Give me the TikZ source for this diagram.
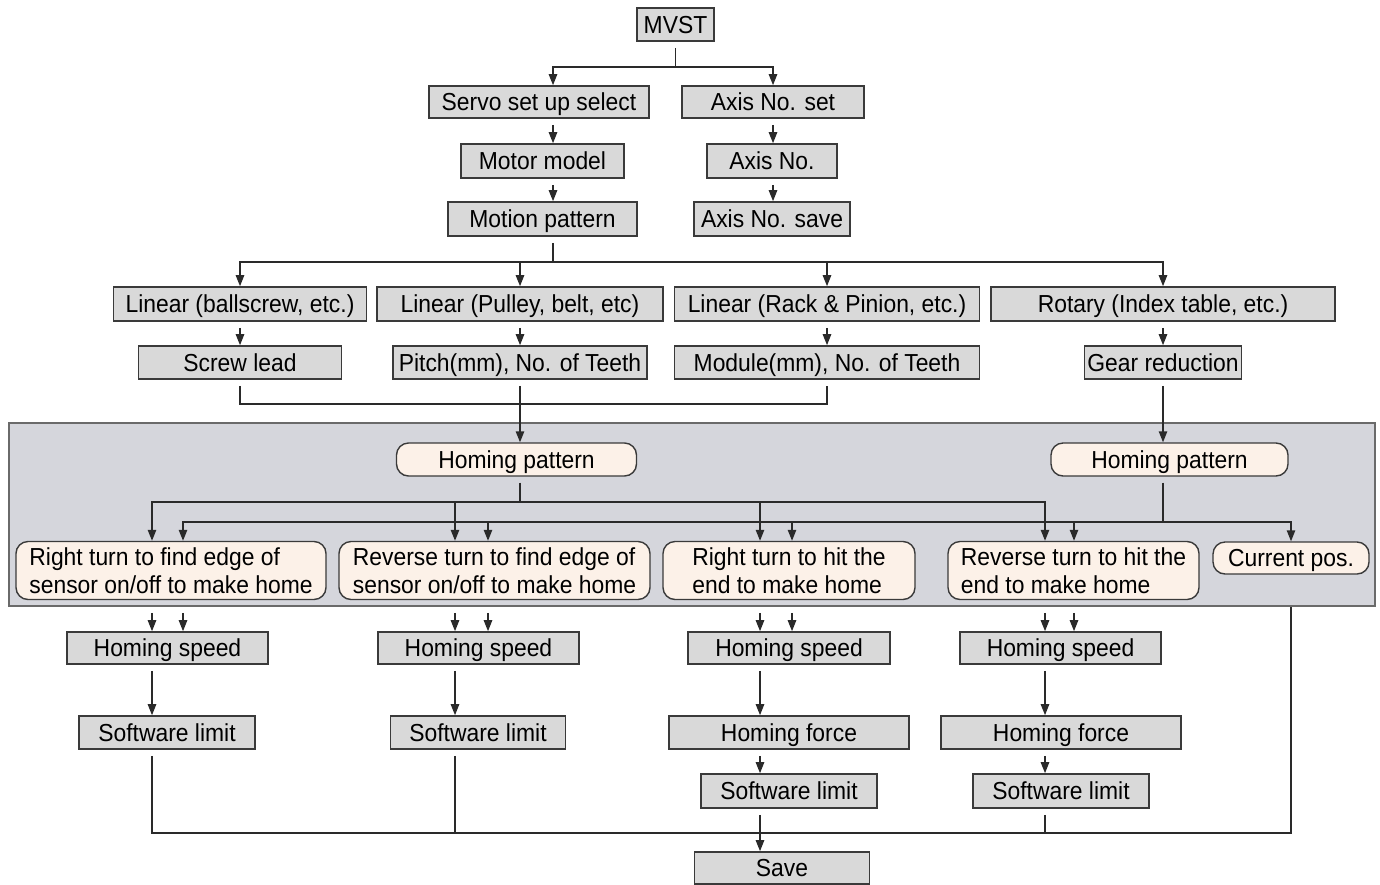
\documentclass[tikz,border=0pt]{standalone}
\usepackage{fontspec}
\setmainfont[FakeStretch=0.93]{Liberation Sans}
\usetikzlibrary{arrows.meta}
\definecolor{boxfill}{HTML}{D9D9D9}
\definecolor{boxdraw}{HTML}{3A3A3A}
\definecolor{panelfill}{HTML}{D5D6DC}
\definecolor{paneldraw}{HTML}{6A6A6A}
\definecolor{roundfill}{HTML}{FCF1E8}
\definecolor{linecol}{HTML}{2A2A2A}
\begin{document}
\begin{tikzpicture}[x=0.5pt,y=-0.5pt,
  font=\fontsize{12.3}{14}\selectfont,
  bx/.style 2 args={draw=boxdraw, fill=boxfill, line width=0.8pt, inner sep=0pt,
    text height=1.9ex, text depth=0.25ex,
    minimum width={0.5pt*#1}, minimum height={0.5pt*#2}},
  rbx/.style 2 args={draw=boxdraw, fill=roundfill, line width=0.7pt, inner sep=0pt,
    rounded corners=6pt, align=left, minimum width={0.5pt*#1}, minimum height={0.5pt*#2}},
  one/.style={text height=1.9ex, text depth=0.25ex},
  panel/.style={draw=paneldraw, fill=panelfill, line width=0.8pt, inner sep=0pt,
    minimum width=683pt, minimum height=91.5pt},
  conn/.style={draw=linecol, line width=0.7pt},
  arr/.style={conn, -{Triangle[length=5.5pt,width=4.2pt]}},
  gap/.style={shorten <=3pt}
]
\useasboundingbox (0,0) rectangle (1380,884);

% grey panel
\node[panel] (panel) at (692,514.5) {};

% top part
\node[bx={77}{33}]  (mvst)     at (675.5,24.5) {MVST};
\node[bx={220}{32}] (servo)    at (539,102)    {Servo set up select};
\node[bx={182}{32}] (axisset)  at (773,102)    {Axis No. set};
\node[bx={163}{34}] (motor)    at (542.5,161)  {Motor model};
\node[bx={130}{34}] (axisno)   at (772,161)    {Axis No.};
\node[bx={189}{34}] (motion)   at (542.5,219)  {Motion pattern};
\node[bx={156}{34}] (axissave) at (772,219)    {Axis No. save};

% mechanism rows
\node[bx={253}{34}] (lin1)   at (240,304)    {Linear (ballscrew, etc.)};
\node[bx={286}{34}] (lin2)   at (520,304)    {Linear (Pulley, belt, etc)};
\node[bx={305}{34}] (lin3)   at (827,304)    {Linear (Rack \& Pinion, etc.)};
\node[bx={344}{34}] (rot)    at (1163,304)   {Rotary (Index table, etc.)};
\node[bx={203}{33}] (screw)  at (240,362.5)  {Screw lead};
\node[bx={254}{33}] (pitch)  at (520,362.5)  {Pitch(mm), No. of Teeth};
\node[bx={305}{33}] (module) at (827,362.5)  {Module(mm), No. of Teeth};
\node[bx={157}{33}] (gear)   at (1163,362.5) {Gear reduction};

% homing patterns
\node[rbx={240}{33},one] (hp1) at (516.5,459.5)  {Homing pattern};
\node[rbx={237}{33},one] (hp2) at (1169.5,459.5) {Homing pattern};
\node[rbx={310}{58}] (b1) at (171,570.5)    {Right turn to find edge of\\sensor on/off to make home};
\node[rbx={311}{58}] (b2) at (494.5,570.5)  {Reverse turn to find edge of\\sensor on/off to make home};
\node[rbx={252}{58}] (b3) at (789,570.5)    {Right turn to hit the\\end to make home};
\node[rbx={251}{58}] (b4) at (1073.5,570.5) {Reverse turn to hit the\\end to make home};
\node[rbx={156}{32},one] (b5) at (1291,558)     {Current pos.};

% lower part
\node[bx={201}{32}] (hs1) at (167.5,648)  {Homing speed};
\node[bx={201}{32}] (hs2) at (478.5,648)  {Homing speed};
\node[bx={202}{32}] (hs3) at (789,648)    {Homing speed};
\node[bx={201}{32}] (hs4) at (1060.5,648) {Homing speed};
\node[bx={176}{33}] (sl1) at (167,732.5)  {Software limit};
\node[bx={175}{33}] (sl2) at (478,732.5)  {Software limit};
\node[bx={240}{33}] (hf3) at (789,732.5)  {Homing force};
\node[bx={240}{33}] (hf4) at (1061,732.5) {Homing force};
\node[bx={176}{34}] (sl3) at (789,791)    {Software limit};
\node[bx={176}{34}] (sl4) at (1061,791)   {Software limit};
\node[bx={175}{32}] (save) at (782,868)   {Save};

% helper coordinates
\coordinate (xa) at (553,0);
\coordinate (xb) at (773,0);
\coordinate (c2) at (520,0);
\coordinate (c4) at (1163,0);
\coordinate (xA1) at (152,0);
\coordinate (xA2) at (455,0);
\coordinate (xA3) at (760,0);
\coordinate (xA4) at (1045,0);
\coordinate (xB1) at (183,0);
\coordinate (xB2) at (488,0);
\coordinate (xB3) at (792,0);
\coordinate (xB4) at (1074,0);
\coordinate (xB5) at (1291,0);
\coordinate (y0) at (0,67);
\coordinate (y1) at (0,262);
\coordinate (y2) at (0,404);
\coordinate (yA) at (0,502);
\coordinate (yB) at (0,522);
\coordinate (yC) at (0,833);

% top connectors
\draw[conn,gap] (mvst.south) -- (mvst.south |- y0);
\draw[arr] (mvst.south |- y0) -| (xa |- servo.north);
\draw[arr] (mvst.south |- y0) -| (xb |- axisset.north);
\draw[arr,gap] (xa |- servo.south) -- (xa |- motor.north);
\draw[arr,gap] (xa |- motor.south) -- (xa |- motion.north);
\draw[arr,gap] (xb |- axisset.south) -- (xb |- axisno.north);
\draw[arr,gap] (xb |- axisno.south) -- (xb |- axissave.north);

\draw[conn,gap] (xa |- motion.south) -- (xa |- y1);
\draw[arr] (xa |- y1) -| (lin1.north);
\draw[arr] (xa |- y1) -| (lin2.north);
\draw[arr] (xa |- y1) -| (lin3.north);
\draw[arr] (xa |- y1) -| (rot.north);
\draw[arr,gap] (lin1.south) -- (screw.north);
\draw[arr,gap] (lin2.south) -- (pitch.north);
\draw[arr,gap] (lin3.south) -- (module.north);
\draw[arr,gap] (rot.south) -- (gear.north);

\draw[conn,gap,shorten >=3pt] (screw.south) |- (module.south |- y2) -- (module.south);
\draw[arr,gap] (pitch.south) -- (pitch.south |- hp1.north);
\draw[arr,gap] (gear.south) -- (gear.south |- hp2.north);

% homing distribution
\draw[conn,gap] (c2 |- hp1.south) -- (c2 |- yA);
\draw[arr] (c2 |- yA) -| (xA1 |- b1.north);
\draw[arr] (c2 |- yA) -| (xA2 |- b2.north);
\draw[arr] (c2 |- yA) -| (xA3 |- b3.north);
\draw[arr] (c2 |- yA) -| (xA4 |- b4.north);
\draw[conn,gap] (c4 |- hp2.south) -- (c4 |- yB);
\draw[arr] (c4 |- yB) -| (xB1 |- b1.north);
\draw[arr] (c4 |- yB) -| (xB2 |- b2.north);
\draw[arr] (c4 |- yB) -| (xB3 |- b3.north);
\draw[arr] (c4 |- yB) -| (xB4 |- b4.north);
\draw[arr] (c4 |- yB) -| (xB5 |- b5.north);

% panel to homing speed
\draw[arr,gap] (xA1 |- panel.south) -- (xA1 |- hs1.north);
\draw[arr,gap] (xB1 |- panel.south) -- (xB1 |- hs1.north);
\draw[arr,gap] (xA2 |- panel.south) -- (xA2 |- hs2.north);
\draw[arr,gap] (xB2 |- panel.south) -- (xB2 |- hs2.north);
\draw[arr,gap] (xA3 |- panel.south) -- (xA3 |- hs3.north);
\draw[arr,gap] (xB3 |- panel.south) -- (xB3 |- hs3.north);
\draw[arr,gap] (xA4 |- panel.south) -- (xA4 |- hs4.north);
\draw[arr,gap] (xB4 |- panel.south) -- (xB4 |- hs4.north);

\draw[arr,gap] (xA1 |- hs1.south) -- (xA1 |- sl1.north);
\draw[arr,gap] (xA2 |- hs2.south) -- (xA2 |- sl2.north);
\draw[arr,gap] (xA3 |- hs3.south) -- (xA3 |- hf3.north);
\draw[arr,gap] (xA4 |- hs4.south) -- (xA4 |- hf4.north);
\draw[arr,gap] (xA3 |- hf3.south) -- (xA3 |- sl3.north);
\draw[arr,gap] (xA4 |- hf4.south) -- (xA4 |- sl4.north);

% bottom collector
\draw[conn,gap] (xA1 |- sl1.south) |- (xB5 |- yC) -- (xB5 |- panel.south);
\draw[conn,gap] (xA2 |- sl2.south) -- (xA2 |- yC);
\draw[conn,gap] (xA4 |- sl4.south) -- (xA4 |- yC);
\draw[arr,gap] (xA3 |- sl3.south) -- (xA3 |- save.north);
\end{tikzpicture}
\end{document}
